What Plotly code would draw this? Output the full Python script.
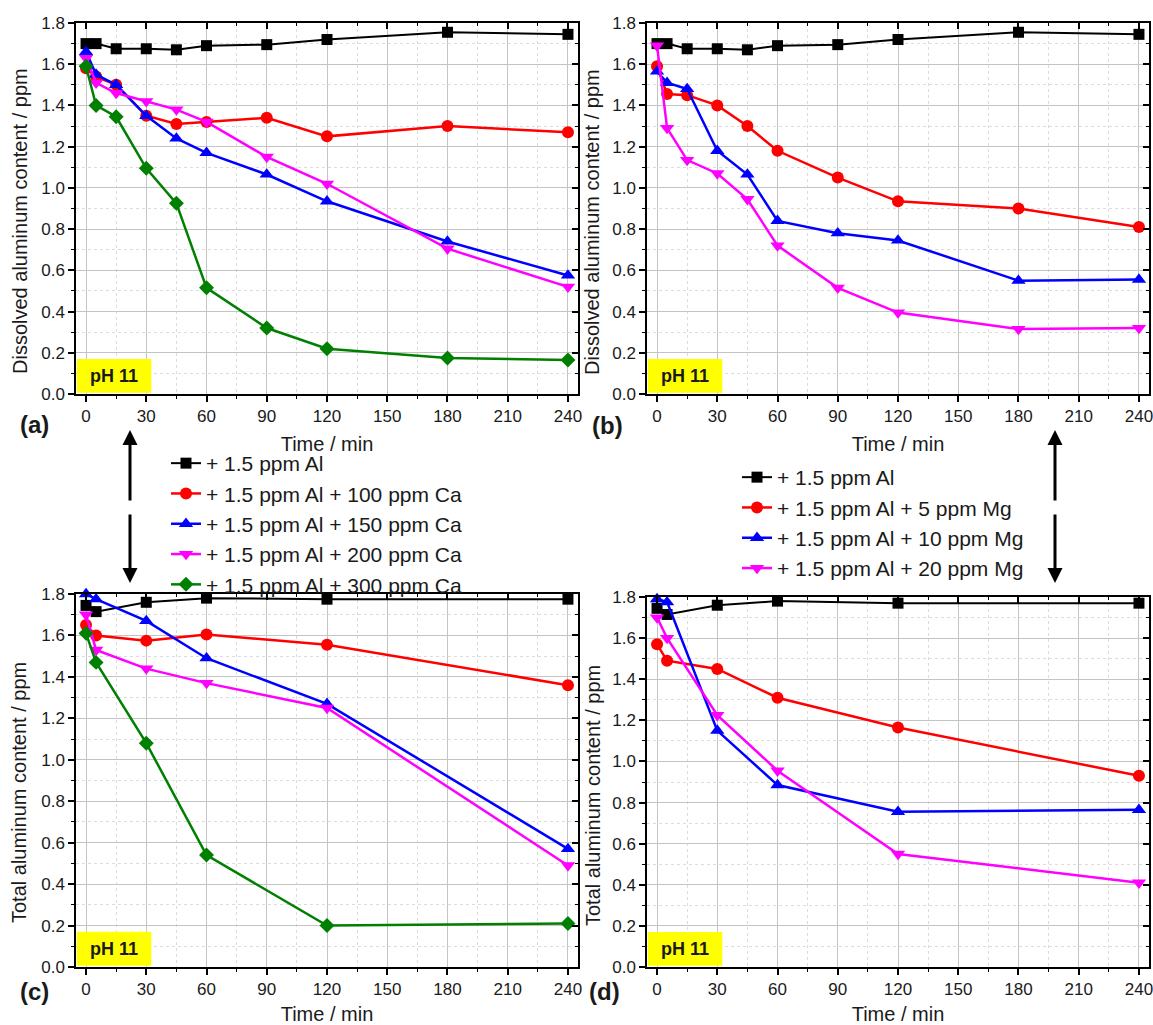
import plotly.graph_objects as go

# ---------------- data ----------------
t_diss = [0, 5, 15, 30, 45, 60, 90, 120, 180, 240]
t_tot = [0, 5, 30, 60, 120, 240]

# (a) dissolved Al, Ca series
a_al = [1.70, 1.70, 1.675, 1.675, 1.67, 1.69, 1.695, 1.72, 1.755, 1.745]
a_ca100 = [1.58, 1.54, 1.50, 1.35, 1.31, 1.32, 1.34, 1.25, 1.30, 1.27]
a_ca150 = [1.66, 1.55, 1.50, 1.35, 1.24, 1.17, 1.065, 0.935, 0.74, 0.575]
a_ca200 = [1.63, 1.51, 1.46, 1.42, 1.38, 1.32, 1.15, 1.02, 0.705, 0.52]
a_ca300 = [1.59, 1.40, 1.345, 1.095, 0.925, 0.515, 0.32, 0.22, 0.175, 0.165]

# (b) dissolved Al, Mg series
b_al = [1.70, 1.70, 1.675, 1.675, 1.67, 1.69, 1.695, 1.72, 1.755, 1.745]
b_mg5 = [1.59, 1.455, 1.45, 1.40, 1.30, 1.18, 1.05, 0.935, 0.90, 0.81]
b_mg10 = [1.565, 1.51, 1.48, 1.18, 1.065, 0.84, 0.78, 0.745, 0.55, 0.555]
b_mg20 = [1.69, 1.29, 1.135, 1.07, 0.945, 0.72, 0.515, 0.395, 0.315, 0.32]

# (c) total Al, Ca series
c_al = [1.745, 1.715, 1.76, 1.78, 1.775, 1.775]
c_ca100 = [1.65, 1.60, 1.575, 1.605, 1.555, 1.36]
c_ca150 = [1.80, 1.775, 1.67, 1.49, 1.27, 0.57]
c_ca200 = [1.70, 1.53, 1.44, 1.37, 1.25, 0.49]
c_ca300 = [1.61, 1.47, 1.08, 0.54, 0.20, 0.21]

# (d) total Al, Mg series
d_al = [1.745, 1.715, 1.76, 1.78, 1.77, 1.77]
d_mg5 = [1.57, 1.49, 1.45, 1.31, 1.165, 0.93]
d_mg10 = [1.79, 1.775, 1.15, 0.885, 0.755, 0.765]
d_mg20 = [1.70, 1.60, 1.225, 0.955, 0.55, 0.41]

names_ca = ["+ 1.5 ppm Al", "+ 1.5 ppm Al + 100 ppm Ca", "+ 1.5 ppm Al + 150 ppm Ca",
            "+ 1.5 ppm Al + 200 ppm Ca", "+ 1.5 ppm Al + 300 ppm Ca"]
names_mg = ["+ 1.5 ppm Al", "+ 1.5 ppm Al + 5 ppm Mg", "+ 1.5 ppm Al + 10 ppm Mg",
            "+ 1.5 ppm Al + 20 ppm Mg"]

x_ticks = [0, 30, 60, 90, 120, 150, 180, 210, 240]
y_ticks = [0.0, 0.2, 0.4, 0.6, 0.8, 1.0, 1.2, 1.4, 1.6, 1.8]

# ---------------- styles ----------------
colors = ["#000000", "#ff0000", "#0000ff", "#ff00ff", "#008000"]
symbols = ["square", "circle", "triangle-up", "triangle-down", "diamond"]
msizes = [11, 12, 12.5, 12.5, 11.5]
lwidths = [2, 2.5, 2.5, 2.5, 2.5]

fig = go.Figure()


def add_series(x, ys, names, xa, ya, legend, show):
    for i, (y, n) in enumerate(zip(ys, names)):
        fig.add_trace(go.Scatter(
            x=x, y=y, name=n, mode="lines+markers",
            line=dict(color=colors[i], width=lwidths[i]),
            marker=dict(symbol=symbols[i], size=msizes[i], color=colors[i]),
            xaxis=xa, yaxis=ya, legend=legend, showlegend=show, cliponaxis=False))


add_series(t_diss, [a_al, a_ca100, a_ca150, a_ca200, a_ca300], names_ca, "x", "y", "legend", True)
add_series(t_diss, [b_al, b_mg5, b_mg10, b_mg20], names_mg, "x2", "y2", "legend2", True)
add_series(t_tot, [c_al, c_ca100, c_ca150, c_ca200, c_ca300], names_ca, "x3", "y3", "legend", False)
add_series(t_tot, [d_al, d_mg5, d_mg10, d_mg20], names_mg, "x4", "y4", "legend2", False)

# empty helper traces so the mirrored (top / right) tick axes get drawn
for xa, ya in [("x5", "y"), ("x", "y5"), ("x6", "y2"), ("x2", "y6"),
               ("x7", "y3"), ("x3", "y7"), ("x8", "y4"), ("x4", "y8")]:
    fig.add_trace(go.Scatter(x=[None], y=[None], mode="markers", xaxis=xa, yaxis=ya,
                             showlegend=False, hoverinfo="skip"))

W, H = 1153, 1025


def xd(a, b):
    return [a / W, b / W]


def yd(top, bottom):
    return [1 - bottom / H, 1 - top / H]


def xaxis(dom, anchor):
    return dict(domain=dom, anchor=anchor, range=[-5, 245], tickmode="array", tickvals=x_ticks,
                ticks="outside", ticklen=6, tickwidth=1.5, tickcolor="black", automargin=False,
                ticklabeloverflow="allow",
                showline=True, mirror=True, linecolor="black", linewidth=1.5,
                showgrid=True, gridcolor="#c4c4c4", gridwidth=1, zeroline=False,
                minor=dict(tickmode="linear", tick0=0, dtick=15, ticks="outside", ticklen=3,
                           tickcolor="black", tickwidth=1.2, showgrid=True,
                           gridcolor="#dcdcdc", griddash="dot", gridwidth=1),
                tickfont=dict(size=17, color="#1a1a1a"),
                title=dict(text="Time / min", font=dict(size=20, color="#1a1a1a"), standoff=12))


def yaxis(dom, anchor):
    return dict(domain=dom, anchor=anchor, range=[0, 1.8], tickmode="array", tickvals=y_ticks,
                tickformat=".1f", automargin=False, ticklabeloverflow="allow",
                ticks="outside", ticklen=6, tickwidth=1.5, tickcolor="black",
                showline=True, mirror=True, linecolor="black", linewidth=1.5,
                showgrid=True, gridcolor="#c4c4c4", gridwidth=1, zeroline=False,
                minor=dict(tickmode="linear", tick0=0, dtick=0.1, ticks="outside", ticklen=3,
                           tickcolor="black", tickwidth=1.2, showgrid=True,
                           gridcolor="#dcdcdc", griddash="dot", gridwidth=1),
                tickfont=dict(size=17, color="#1a1a1a"))


def top_axis(dom, anchor, over):
    return dict(domain=dom, anchor=anchor, overlaying=over, side="top", range=[-5, 245],
                tickmode="array", tickvals=x_ticks, ticks="inside", ticklen=6, tickwidth=1.5,
                tickcolor="black", showticklabels=False, showgrid=False, zeroline=False,
                showline=False, automargin=False,
                minor=dict(tickmode="linear", tick0=0, dtick=15, ticks="inside", ticklen=3,
                           tickcolor="black", tickwidth=1.2, showgrid=False))


def right_axis(dom, anchor, over):
    return dict(domain=dom, anchor=anchor, overlaying=over, side="right", range=[0, 1.8],
                tickmode="array", tickvals=y_ticks, ticks="inside", ticklen=6, tickwidth=1.5,
                tickcolor="black", showticklabels=False, showgrid=False, zeroline=False,
                showline=False, automargin=False,
                minor=dict(tickmode="linear", tick0=0, dtick=0.1, ticks="inside", ticklen=3,
                           tickcolor="black", tickwidth=1.2, showgrid=False))


diss = "Dissolved aluminum content / ppm"
tot = "Total aluminum content / ppm"

shapes = []
annotations = []
for xr, yr in [("x", "y"), ("x2", "y2"), ("x3", "y3"), ("x4", "y4")]:
    shapes.append(dict(type="rect", xref=xr, yref=yr,
                       x0=-4.6, x1=32.5, y0=0.006, y1=0.17, fillcolor="#ffff00",
                       line=dict(width=0), layer="above"))
    annotations.append(dict(text="<b>pH 11</b>", xref=xr, yref=yr,
                            x=13.8, y=0.088, showarrow=False,
                            xanchor="center", yanchor="middle",
                            font=dict(size=18, color="#1a1a1a")))

# y-axis titles (rotated text)
for txt, px, py in [(diss, 20, 221), (diss, 592, 222), (tot, 19, 793), (tot, 593, 796)]:
    annotations.append(dict(text=txt, xref="paper", yref="paper", x=px / W, y=1 - py / H,
                            textangle=-90, showarrow=False, xanchor="center", yanchor="middle",
                            font=dict(size=20, color="#1a1a1a")))

for lab, px, py in [("(a)", 34, 425), ("(b)", 607, 426), ("(c)", 34, 991), ("(d)", 604, 991)]:
    annotations.append(dict(text="<b>%s</b>" % lab, xref="paper", yref="paper",
                            x=px / W, y=1 - py / H, showarrow=False,
                            xanchor="center", yanchor="middle",
                            font=dict(size=24, color="#1a1a1a")))

for ax_x in [130, 1055]:
    annotations.append(dict(text="", xref="paper", yref="paper", x=ax_x / W, y=1 - 430 / H,
                            ax=0, ay=72, showarrow=True, arrowhead=2, arrowsize=1,
                            arrowwidth=3, arrowcolor="black"))
    annotations.append(dict(text="", xref="paper", yref="paper", x=ax_x / W, y=1 - 583 / H,
                            ax=0, ay=-70, showarrow=True, arrowhead=2, arrowsize=1,
                            arrowwidth=3, arrowcolor="black"))

dom_ab_y = yd(23, 394)
dom_c_y = yd(594, 967)
dom_d_y = yd(597, 967)
dom_l = xd(76, 578)
dom_r = xd(647, 1149)

fig.update_layout(
    width=W, height=H, margin=dict(l=0, r=0, t=0, b=0, pad=0, autoexpand=False),
    paper_bgcolor="white", plot_bgcolor="white",
    font=dict(family="Liberation Sans, Arial, sans-serif", color="#1a1a1a"),
    xaxis=xaxis(dom_l, "y"),
    yaxis=yaxis(dom_ab_y, "x"),
    xaxis2=xaxis(dom_r, "y2"),
    yaxis2=yaxis(dom_ab_y, "x2"),
    xaxis3=xaxis(dom_l, "y3"),
    yaxis3=yaxis(dom_c_y, "x3"),
    xaxis4=xaxis(dom_r, "y4"),
    yaxis4=yaxis(dom_d_y, "x4"),
    xaxis5=top_axis(dom_l, "y", "x"),
    yaxis5=right_axis(dom_ab_y, "x", "y"),
    xaxis6=top_axis(dom_r, "y2", "x2"),
    yaxis6=right_axis(dom_ab_y, "x2", "y2"),
    xaxis7=top_axis(dom_l, "y3", "x3"),
    yaxis7=right_axis(dom_c_y, "x3", "y3"),
    xaxis8=top_axis(dom_r, "y4", "x4"),
    yaxis8=right_axis(dom_d_y, "x4", "y4"),
    legend=dict(x=166 / W, y=1 - 443 / H, xanchor="left", yanchor="top",
                font=dict(size=21, color="#1a1a1a"), bgcolor="rgba(0,0,0,0)",
                borderwidth=0),
    legend2=dict(x=737 / W, y=1 - 457 / H, xanchor="left", yanchor="top",
                 font=dict(size=21, color="#1a1a1a"), bgcolor="rgba(0,0,0,0)",
                 borderwidth=0),
    shapes=shapes, annotations=annotations,
)

fig.write_html("out.html")
